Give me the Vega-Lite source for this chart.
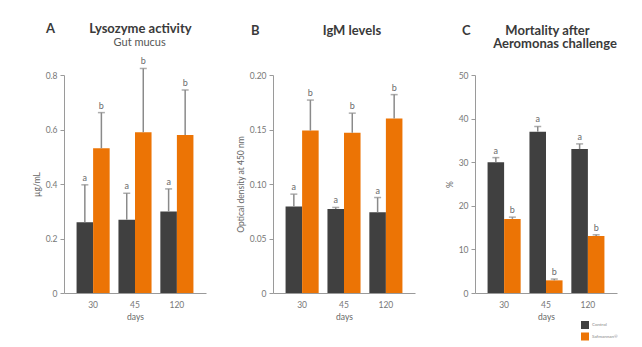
{
  "$schema": "https://vega.github.io/schema/vega-lite/v6.json",
  "autosize": {"type": "pad"},
  "padding": {"left": 32, "top": 23, "right": 0, "bottom": 0},
  "background": "white",
  "datasets": {
    "bars": [
      {"panel": "A", "day": "30", "group": "Control", "value": 0.26, "upper": 0.397, "letter": "a"},
      {"panel": "A", "day": "30", "group": "Safmannan®", "value": 0.531, "upper": 0.662, "letter": "b"},
      {"panel": "A", "day": "45", "group": "Control", "value": 0.269, "upper": 0.366, "letter": "a"},
      {"panel": "A", "day": "45", "group": "Safmannan®", "value": 0.59, "upper": 0.824, "letter": "b"},
      {"panel": "A", "day": "120", "group": "Control", "value": 0.299, "upper": 0.382, "letter": "a"},
      {"panel": "A", "day": "120", "group": "Safmannan®", "value": 0.58, "upper": 0.745, "letter": "b"},
      {"panel": "B", "day": "30", "group": "Control", "value": 0.0794, "upper": 0.0907, "letter": "a"},
      {"panel": "B", "day": "30", "group": "Safmannan®", "value": 0.149, "upper": 0.177, "letter": "b"},
      {"panel": "B", "day": "45", "group": "Control", "value": 0.077, "upper": 0.0785, "letter": "a"},
      {"panel": "B", "day": "45", "group": "Safmannan®", "value": 0.147, "upper": 0.165, "letter": "b"},
      {"panel": "B", "day": "120", "group": "Control", "value": 0.074, "upper": 0.0876, "letter": "a"},
      {"panel": "B", "day": "120", "group": "Safmannan®", "value": 0.16, "upper": 0.182, "letter": "b"},
      {"panel": "C", "day": "30", "group": "Control", "value": 30.0, "upper": 31.05, "letter": "a"},
      {"panel": "C", "day": "30", "group": "Safmannan®", "value": 17.0, "upper": 17.4, "letter": "b"},
      {"panel": "C", "day": "45", "group": "Control", "value": 37.0, "upper": 38.2, "letter": "a"},
      {"panel": "C", "day": "45", "group": "Safmannan®", "value": 2.9, "upper": 3.2, "letter": "b"},
      {"panel": "C", "day": "120", "group": "Control", "value": 33.0, "upper": 34.2, "letter": "a"},
      {"panel": "C", "day": "120", "group": "Safmannan®", "value": 13.1, "upper": 13.35, "letter": "b"}
    ]
  },
  "data": {"name": "bars"},
  "spacing": 30,
  "resolve": {"scale": {"color": "independent", "y": "independent"}, "legend": {"color": "independent"}},
  "hconcat": [
    {
      "width": 142, "height": 218,
      "title": {"text": "A\u00a0\u00a0\u00a0\u00a0\u00a0\u00a0\u00a0\u00a0\u00a0\u00a0\u00a0Lysozyme activity", "subtitle": "\u200b\u00a0\u00a0\u00a0\u00a0\u00a0\u00a0\u00a0\u00a0\u00a0\u00a0\u00a0\u00a0\u00a0\u00a0\u00a0\u00a0\u00a0\u00a0\u00a0\u00a0\u00a0\u00a0\u00a0\u00a0Gut mucus", "anchor": "start", "frame": "group", "dx": -18, "offset": 9, "subtitlePadding": 1, "subtitleFontSize": 11},
      "transform": [{"filter": "datum.panel == 'A'"}],
      "encoding": {
        "x": {"field": "day", "type": "nominal", "sort": ["30", "45", "120"], "scale": {"paddingInner": 0.21, "paddingOuter": 0.3}, "axis": {"title": "days", "labelAngle": 0, "ticks": false}},
        "xOffset": {"field": "group", "type": "nominal", "sort": ["Control", "Safmannan®"]}
      },
      "layer": [
        {"mark": {"type": "bar"}, "encoding": {
          "y": {"field": "value", "type": "quantitative", "scale": {"domain": [0, 0.8], "nice": false}, "axis": {"title": "µg/mL", "values": [0, 0.2, 0.4, 0.6, 0.8], "labelExpr": "datum.value == 0 ? '0' : format(datum.value, '.1f')"}},
          "color": {"field": "group", "type": "nominal", "sort": ["Control", "Safmannan®"], "scale": {"range": ["#404040", "#ec7405"]}, "legend": null}}},
        {"mark": {"type": "rule", "color": "#8a8a8a", "strokeWidth": 1.5}, "encoding": {"y": {"field": "value", "type": "quantitative"}, "y2": {"field": "upper"}}},
        {"mark": {"type": "tick", "color": "#8a8a8a", "size": 7, "thickness": 1.5}, "encoding": {"y": {"field": "upper", "type": "quantitative"}}},
        {"mark": {"type": "text", "color": "#6a6a6a", "fontSize": 9, "dy": -7}, "encoding": {"y": {"field": "upper", "type": "quantitative"}, "text": {"field": "letter"}}}
      ]
    },
    {
      "width": 142, "height": 218,
      "title": {"text": "B\u00a0\u00a0\u00a0\u00a0\u00a0\u00a0\u00a0\u00a0\u00a0\u00a0\u00a0\u00a0\u00a0\u00a0\u00a0\u00a0\u00a0\u00a0\u00a0\u00a0IgM levels", "anchor": "start", "frame": "group", "dx": -22, "offset": 33},
      "transform": [{"filter": "datum.panel == 'B'"}],
      "encoding": {
        "x": {"field": "day", "type": "nominal", "sort": ["30", "45", "120"], "scale": {"paddingInner": 0.21, "paddingOuter": 0.3}, "axis": {"title": "days", "labelAngle": 0, "ticks": false}},
        "xOffset": {"field": "group", "type": "nominal", "sort": ["Control", "Safmannan®"]}
      },
      "layer": [
        {"mark": {"type": "bar"}, "encoding": {
          "y": {"field": "value", "type": "quantitative", "scale": {"domain": [0, 0.2], "nice": false}, "axis": {"title": "Optical density at 450 nm", "values": [0, 0.05, 0.1, 0.15, 0.2], "labelExpr": "datum.value == 0 ? '0' : format(datum.value, '.2f')"}},
          "color": {"field": "group", "type": "nominal", "sort": ["Control", "Safmannan®"], "scale": {"range": ["#404040", "#ec7405"]}, "legend": null}}},
        {"mark": {"type": "rule", "color": "#8a8a8a", "strokeWidth": 1.5}, "encoding": {"y": {"field": "value", "type": "quantitative"}, "y2": {"field": "upper"}}},
        {"mark": {"type": "tick", "color": "#8a8a8a", "size": 7, "thickness": 1.5}, "encoding": {"y": {"field": "upper", "type": "quantitative"}}},
        {"mark": {"type": "text", "color": "#6a6a6a", "fontSize": 9, "dy": -7}, "encoding": {"y": {"field": "upper", "type": "quantitative"}, "text": {"field": "letter"}}}
      ]
    },
    {
      "width": 142, "height": 218,
      "title": {"text": ["C\u00a0\u00a0\u00a0\u00a0\u00a0\u00a0\u00a0\u00a0\u00a0\u00a0\u00a0Mortality after", "\u200b\u00a0\u00a0\u00a0\u00a0\u00a0\u00a0\u00a0\u00a0\u00a0\u00a0Aeromonas challenge"], "anchor": "start", "frame": "group", "dx": -13, "offset": 20, "lineHeight": 13},
      "transform": [{"filter": "datum.panel == 'C'"}],
      "encoding": {
        "x": {"field": "day", "type": "nominal", "sort": ["30", "45", "120"], "scale": {"paddingInner": 0.21, "paddingOuter": 0.3}, "axis": {"title": "days", "labelAngle": 0, "ticks": false}},
        "xOffset": {"field": "group", "type": "nominal", "sort": ["Control", "Safmannan®"]}
      },
      "layer": [
        {"mark": {"type": "bar"}, "encoding": {
          "y": {"field": "value", "type": "quantitative", "scale": {"domain": [0, 50], "nice": false}, "axis": {"title": "%", "values": [0, 10, 20, 30, 40, 50]}},
          "color": {"field": "group", "type": "nominal", "sort": ["Control", "Safmannan®"], "scale": {"range": ["#404040", "#ec7405"]}, "legend": {"title": null, "orient": "none", "legendX": 106, "legendY": 246, "symbolType": "square", "symbolSize": 64, "symbolStrokeWidth": 0, "labelFontSize": 4.5, "labelColor": "#888", "rowPadding": 3.5, "padding": 0, "labelOffset": 3}}}},
        {"mark": {"type": "rule", "color": "#8a8a8a", "strokeWidth": 1.5}, "encoding": {"y": {"field": "value", "type": "quantitative"}, "y2": {"field": "upper"}}},
        {"mark": {"type": "tick", "color": "#8a8a8a", "size": 7, "thickness": 1.5}, "encoding": {"y": {"field": "upper", "type": "quantitative"}}},
        {"mark": {"type": "text", "color": "#6a6a6a", "fontSize": 9, "dy": -7}, "encoding": {"y": {"field": "upper", "type": "quantitative"}, "text": {"field": "letter"}}}
      ]
    }
  ],
  "config": {
    "font": "Lato",
    "view": {"stroke": null},
    "axis": {"domainColor": "#9a9a9a", "tickColor": "#9a9a9a", "tickSize": 4, "labelColor": "#777", "titleColor": "#666", "labelFontSize": 8.5, "titleFontSize": 8.5, "titleFontWeight": "normal", "grid": false, "labelPadding": 3},
    "axisX": {"labelPadding": 7, "titlePadding": 4},
    "axisY": {"titlePadding": 4},
    "title": {"fontSize": 13, "fontWeight": "bold", "color": "#3a3a3a", "subtitleFontSize": 11.5, "subtitleColor": "#555", "subtitleFontWeight": "normal", "subtitlePadding": 2}
  }
}
